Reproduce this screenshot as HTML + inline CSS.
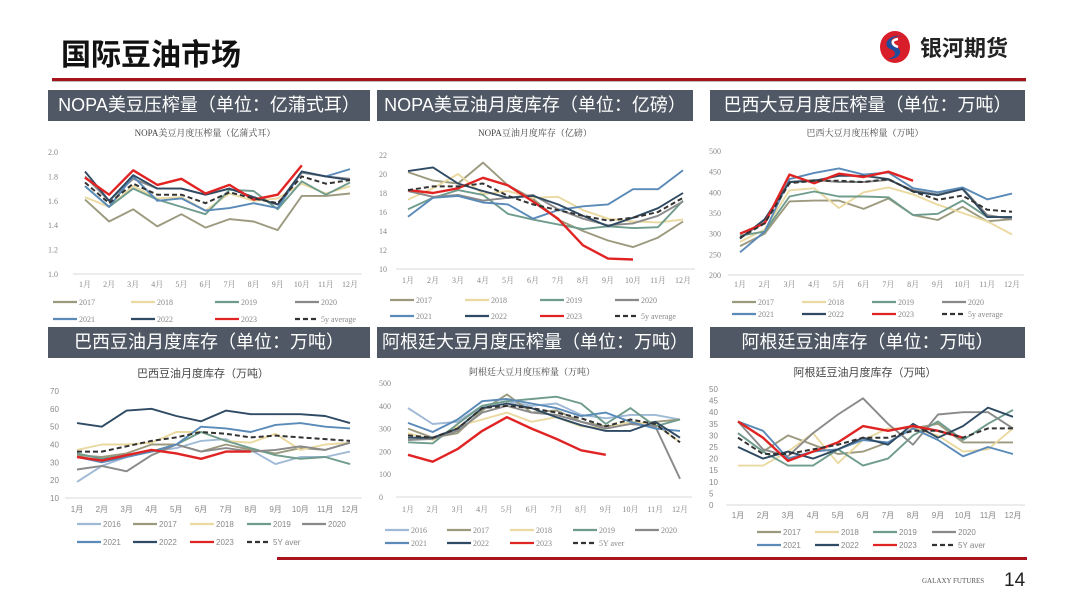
<!DOCTYPE html>
<html><head><meta charset="utf-8"><style>
body{margin:0;width:1080px;height:608px;background:#fff;position:relative;overflow:hidden;font-family:"Liberation Sans","Noto Sans CJK SC",sans-serif}
.hdr{position:absolute;height:31px;background:#4f5864;color:#fff;font-size:18px;line-height:31px;text-align:center;white-space:nowrap;font-family:"Liberation Sans","Noto Sans CJK SC",sans-serif}
</style></head><body>
<div style="position:absolute;left:61px;top:30px;font-size:30px;font-weight:bold;color:#111;font-family:'Noto Sans CJK SC',sans-serif">国际豆油市场</div>
<div style="position:absolute;left:876px;top:30px;width:150px;height:34px">
<svg width="40" height="34"><ellipse cx="19" cy="17" rx="15" ry="16" fill="#d81e2a"/><path d="M26 6 C14 6 12 14 20 17 C28 20 24 30 12 29 C22 26 20 21 14 19 C6 15 12 4 26 6Z" fill="#1f4e9c"/><path d="M22 9 C14 10 16 15 22 17" stroke="#fff" stroke-width="2.5" fill="none"/></svg>
<span style="position:absolute;left:44px;top:1px;font-size:22px;font-weight:bold;color:#222;font-family:'Noto Sans CJK SC',sans-serif">银河期货</span></div>
<div style="position:absolute;left:52px;top:78px;width:974px;height:3px;background:#a8141c;border-bottom:1px solid #bbb"></div>
<div class="hdr" style="left:48px;top:90px;width:322px">NOPA美豆压榨量（单位：亿蒲式耳）</div>
<div class="hdr" style="left:377px;top:90px;width:316px">NOPA美豆油月度库存（单位：亿磅）</div>
<div class="hdr" style="left:710px;top:90px;width:315px">巴西大豆月度压榨量（单位：万吨）</div>
<div class="hdr" style="left:48px;top:327px;width:322px">巴西豆油月度库存（单位：万吨）</div>
<div class="hdr" style="left:377px;top:327px;width:316px">阿根廷大豆月度压榨量（单位：万吨）</div>
<div class="hdr" style="left:710px;top:327px;width:315px">阿根廷豆油库存（单位：万吨）</div>
<div style="position:absolute;left:277px;top:557px;width:750px;height:3px;background:#a8141c"></div>
<div style="position:absolute;left:922px;top:577px;font-size:7px;color:#555;font-family:'Liberation Serif',serif">GALAXY FUTURES</div>
<div style="position:absolute;left:1004px;top:570px;font-size:19px;color:#222">14</div>
<svg id="charts" width="1080" height="608" style="position:absolute;left:0;top:0"></svg>
<script>
const months=['1月','2月','3月','4月','5月','6月','7月','8月','9月','10月','11月','12月'];
// Chart 1 NOPA crush
const c1Ticks=['1.0','1.2','1.4','1.6','1.8','2.0'];
const c1y2017=[1.61,1.43,1.53,1.39,1.49,1.38,1.45,1.43,1.36,1.64,1.64,1.66];
const c1y2018=[1.63,1.55,1.72,1.62,1.63,1.52,1.66,1.60,1.62,1.74,1.66,1.72];
const c1y2019=[1.72,1.55,1.70,1.61,1.55,1.49,1.69,1.68,1.53,1.76,1.65,1.75];
const c1y2020=[1.80,1.60,1.78,1.70,1.70,1.65,1.70,1.63,1.57,1.83,1.80,1.78];
const c1y2021=[1.72,1.55,1.80,1.60,1.62,1.52,1.54,1.58,1.54,1.84,1.80,1.86];
const c1y2022=[1.84,1.60,1.81,1.70,1.70,1.65,1.70,1.63,1.57,1.84,1.80,1.77];
const c1y2023=[1.79,1.65,1.85,1.73,1.78,1.66,1.73,1.61,1.65,1.89];
const c1avg=[1.75,1.58,1.74,1.65,1.65,1.58,1.67,1.62,1.58,1.80,1.74,1.77];
// Chart 2 NOPA oil stock
const c2Ticks=['10','12','14','16','18','20','22'];
const c2y2017=[20.2,19.3,19.0,21.2,18.8,17.4,15.2,14.0,13.0,12.3,13.3,15.0];
const c2y2018=[17.3,18.5,20.0,17.9,18.2,17.5,17.6,16.2,15.3,15.0,14.9,15.2];
const c2y2019=[16.3,17.5,18.3,17.8,15.8,15.2,14.7,14.2,14.5,14.3,14.4,17.2];
const c2y2020=[18.2,17.6,17.8,17.2,17.5,17.8,16.3,15.3,14.6,14.8,15.6,17.1];
const c2y2021=[15.5,17.5,17.7,17.0,16.8,15.3,16.2,16.6,16.8,18.4,18.4,20.4];
const c2y2022=[20.3,20.7,19.0,18.2,17.5,17.7,16.8,15.6,14.5,15.4,16.4,18.0];
const c2y2023=[18.3,18.0,18.5,19.6,18.8,17.1,15.3,12.5,11.1,11.0];
const c2avg=[18.3,18.7,18.7,19.0,17.7,16.8,16.2,15.6,15.1,15.4,16.0,17.5];
// Chart 3 Brazil crush
const c3Ticks=['200','250','300','350','400','450','500'];
const c3y2017=[270,300,378,380,380,360,385,345,333,365,330,335];
const c3y2018=[280,310,405,410,362,400,412,395,370,350,330,298];
const c3y2019=[295,305,390,402,390,390,388,345,348,380,340,340];
const c3y2020=[290,330,425,430,425,425,430,405,395,410,345,335];
const c3y2021=[255,305,432,447,458,443,448,410,400,412,383,397];
const c3y2022=[288,335,425,428,440,440,432,402,393,408,340,340];
const c3y2023=[300,325,443,422,445,437,450,428];
const c3avg=[290,325,422,428,428,425,432,402,382,392,358,353];
// Chart 4 Brazil oil stock
const c4Ticks=['10','20','30','40','50','60','70'];
const c4y2016=[19,28,33,36,38,42,43,37,29,33,33,36];
const c4y2017=[34,33,35,40,40,36,40,37,35,38,37,41];
const c4y2018=[37,40,40,41,47,47,42,41,46,37,40,41];
const c4y2019=[35,32,34,36,40,47,42,38,34,32,33,29];
const c4y2020=[26,28,25,34,40,36,38,36,37,39,37,41];
const c4y2021=[33,30,33,36,40,50,49,47,51,52,50,49];
const c4y2022=[52,50,59,60,56,53,59,57,57,57,56,52];
const c4y2023=[33,31,34,37,35,32,36,36];
const c4avg=[36,36,39,42,44,47,46,44,45,44,43,42];
// Chart 5 Argentina crush
const c5Ticks=['0','100','200','300','400','500'];
const c5y2016=[390,320,330,400,420,400,410,360,345,360,360,340];
const c5y2017=[300,260,280,380,450,370,380,330,310,320,330,340];
const c5y2018=[280,250,310,340,370,330,350,310,300,330,320,240];
const c5y2019=[240,235,320,400,420,430,440,410,320,390,310,340];
const c5y2020=[250,255,290,370,400,370,360,330,300,320,310,80];
const c5y2021=[325,285,340,420,430,410,390,355,370,330,300,290];
const c5y2022=[260,260,300,390,410,390,350,315,290,290,330,260];
const c5y2023=[185,155,210,290,350,300,255,205,185];
const c5avg=[270,260,300,390,400,390,370,345,310,340,320,240];
// Chart 6 Argentina oil stock
const c6Ticks=['0','5','10','15','20','25','30','35','40','45','50'];
const c6y2017=[31,23,30,26,22,23,27,33,35,27,27,27];
const c6y2018=[17,17,23,31,18,28,33,33,30,23,24,33];
const c6y2019=[31,23,17,17,24,17,20,30,36,28,35,41];
const c6y2020=[36,24,21,31,39,46,35,26,39,40,40,33];
const c6y2021=[36,32,20,23,24,28,27,33,28,21,25,22];
const c6y2022=[25,20,23,20,24,29,26,35,29,34,42,38];
const c6y2023=[36,29,19,23,27,34,32,34,32,29];
const c6avg=[29,22,22,24,26,29,29,32,32,29,33,33];

const COL={'2016':'#9fb9d6','2017':'#9c9a7e','2018':'#ead9a0','2019':'#6f9c8c','2020':'#8a8a8a','2021':'#5a8ab8','2022':'#2f4a63','2023':'#e02424','avg':'#333'};
const NS='http://www.w3.org/2000/svg';
const root=document.getElementById('charts');
function mk(tag,attrs,parent){const e=document.createElementNS(NS,tag);for(const k in attrs)e.setAttribute(k,attrs[k]);(parent||root).appendChild(e);return e;}

function drawChart(c){
  const g=mk('g',{});
  
  
  const min=parseFloat(c.ticks[0]),max=parseFloat(c.ticks[c.ticks.length-1]);
  const yS=v=>c.yBot-(v-min)/(max-min)*(c.yBot-c.yTop);
  const xS=i=>c.x1+i*(c.x12-c.x1)/11;
  const t=mk('text',{x:c.titleX,y:c.titleY,'text-anchor':'middle','font-size':c.serif?9:11,fill:'#444','font-family':c.font},g);
  t.textContent=c.title;
  
  
  c.ticks.forEach(tv=>{
    const tt=mk('text',{x:c.tickX,y:yS(parseFloat(tv))+3,'font-size':8,fill:'#888','font-family':c.font},g);
    tt.textContent=tv;
    
    
  });
  const ax=mk('line',{x1:c.x1-12,x2:c.x12+12,y1:c.yBot,y2:c.yBot,stroke:'#d9d9d9','stroke-width':1},g);
  
  
  months.forEach((m,i)=>{
    const mt=mk('text',{x:xS(i),y:c.monthY,'text-anchor':'middle','font-size':8,fill:'#888','font-family':c.font},g);
    mt.textContent=m;
    
    
  });
  c.series.forEach(s=>{
    const pts=s.data.map((v,i)=>xS(i).toFixed(1)+','+yS(v).toFixed(1)).join(' ');
    const isAvg=s.key==='avg';
    const pl=mk('polyline',{points:pts,fill:'none',stroke:COL[s.key],'stroke-width':s.key==='2023'?2.4:(isAvg?2:1.9),'stroke-linejoin':'round'},g);
    if(isAvg)pl.setAttribute('stroke-dasharray','5,3');
    
    
  });
  c.series.forEach((s,k)=>{
    const row=k<c.perRow?0:1, col=row?k-c.perRow:k;
    const lx=c.legX[col], ly=c.legY[row];
    const isAvg=s.key==='avg';
    const ll=mk('line',{x1:lx,x2:lx+24,y1:ly,y2:ly,stroke:COL[s.key],'stroke-width':2.2},g);
    if(isAvg)ll.setAttribute('stroke-dasharray','5,3');
    
    
    const lt=mk('text',{x:lx+26,y:ly+3,'font-size':8,fill:'#888','font-family':c.font},g);
    lt.textContent=s.label;
    
    
  });
}
const SER="'Liberation Serif','Noto Serif CJK SC',serif", SANS="'Liberation Sans','Noto Sans CJK SC',sans-serif";
function std(a,label){return [{key:'2017',label:'2017',data:a[0]},{key:'2018',label:'2018',data:a[1]},{key:'2019',label:'2019',data:a[2]},{key:'2020',label:'2020',data:a[3]},{key:'2021',label:'2021',data:a[4]},{key:'2022',label:'2022',data:a[5]},{key:'2023',label:'2023',data:a[6]},{key:'avg',label:label,data:a[7]}];}
drawChart({name:'chart-nopa-crush',title:'NOPA美豆月度压榨量（亿蒲式耳）',titleX:205,titleY:136,font:SER,serif:1,ticks:c1Ticks,yTop:152,yBot:274,tickX:48,x1:85,x12:350,monthY:287,perRow:4,legX:[53,131,215,295],legY:[302,319],
  series:std([c1y2017,c1y2018,c1y2019,c1y2020,c1y2021,c1y2022,c1y2023,c1avg],'5y average')});
drawChart({name:'chart-nopa-oil-stock',title:'NOPA豆油月度库存（亿磅）',titleX:535,titleY:136,font:SER,serif:1,ticks:c2Ticks,yTop:155,yBot:269,tickX:379,x1:408,x12:683,monthY:283,perRow:4,legX:[390,465,540,615],legY:[300,316],
  series:std([c2y2017,c2y2018,c2y2019,c2y2020,c2y2021,c2y2022,c2y2023,c2avg],'5y average')});
drawChart({name:'chart-brazil-crush',title:'巴西大豆月度压榨量（万吨）',titleX:865,titleY:136,font:SER,serif:1,ticks:c3Ticks,yTop:151,yBot:275,tickX:709,x1:740,x12:1012,monthY:287,perRow:4,legX:[732,802,872,942],legY:[302,314],
  series:std([c3y2017,c3y2018,c3y2019,c3y2020,c3y2021,c3y2022,c3y2023,c3avg],'5y average')});
drawChart({name:'chart-brazil-oil-stock',title:'巴西豆油月度库存（万吨）',titleX:203,titleY:377,font:SANS,serif:0,ticks:c4Ticks,yTop:391,yBot:498,tickX:50,x1:77,x12:350,monthY:512,perRow:5,legX:[77,133,190,247,302],legY:[524,542],
  series:[{key:'2016',label:'2016',data:c4y2016}].concat(std([c4y2017,c4y2018,c4y2019,c4y2020,c4y2021,c4y2022,c4y2023,c4avg],'5Y aver'))});
drawChart({name:'chart-argentina-crush',title:'阿根廷大豆月度压榨量（万吨）',titleX:532,titleY:375,font:SER,serif:1,ticks:c5Ticks,yTop:383,yBot:497,tickX:379,x1:408,x12:680,monthY:512,perRow:5,legX:[385,447,510,573,635],legY:[530,543],
  series:[{key:'2016',label:'2016',data:c5y2016}].concat(std([c5y2017,c5y2018,c5y2019,c5y2020,c5y2021,c5y2022,c5y2023,c5avg],'5Y aver'))});
drawChart({name:'chart-argentina-oil-stock',title:'阿根廷豆油月度库存（万吨）',titleX:865,titleY:376,font:SANS,serif:0,ticks:c6Ticks,yTop:389,yBot:505,tickX:709,x1:738,x12:1013,monthY:518,perRow:4,legX:[757,815,873,932],legY:[532,545],
  series:std([c6y2017,c6y2018,c6y2019,c6y2020,c6y2021,c6y2022,c6y2023,c6avg],'5Y aver')});
</script>
</body></html>
